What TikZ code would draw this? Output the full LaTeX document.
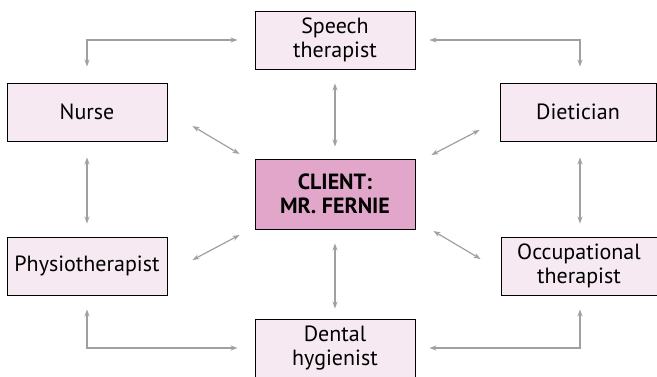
\documentclass[tikz,border=0pt]{standalone}
\usepackage{fontspec}
\setmainfont{PT Sans}
\usetikzlibrary{arrows.meta,calc}
\definecolor{boxfill}{HTML}{F7E9F2}
\definecolor{clientfill}{HTML}{E1A6C9}
\definecolor{conncol}{HTML}{A0A0A0}
\begin{document}
\begin{tikzpicture}[x=1pt,y=-1pt,
  box/.style={draw=black,line width=0.9pt,fill=boxfill,minimum width=160pt,minimum height=58pt,inner sep=0pt,align=center,font=\fontsize{22}{24}\selectfont},
  clientbox/.style={box,fill=clientfill,minimum height=70pt,font=\fontsize{22}{24}\selectfont\bfseries},
  conn/.style={draw=conncol,line width=1.2pt,{Stealth[length=7pt,width=5pt]}-{Stealth[length=7pt,width=5pt]}}
]
\useasboundingbox (0,0) rectangle (657,376);
\clip (0,0) rectangle (657,376);
\node[box] (speech) at (335,40) {Speech\\therapist};
\node[box] (nurse) at (87,112) {Nurse};
\node[box,minimum width=156pt] (diet) at (578,112) {Dietician};
\node[clientbox] (client) at (335,194) {CLIENT:\\MR. FERNIE};
\node[box] (physio) at (87,266) {Physiotherapist};
\node[box,minimum width=156pt] (occ) at (579,266) {Occupational\\therapist};
\node[box] (dental) at (335,348) {Dental\\hygienist};

\draw[conn,shorten <=16pt,shorten >=17pt] (nurse.north) |- (speech.west);
\draw[conn,shorten <=14pt,shorten >=16pt] (speech.east) -| ([xshift=2pt]diet.north);
\draw[conn,shorten <=16pt,shorten >=13pt] (nurse.south) -- (physio.north);
\draw[conn,shorten <=16pt,shorten >=13pt] ([xshift=2pt]diet.south) -- ([xshift=1pt]occ.north);
\draw[conn,shorten <=14pt,shorten >=12pt] (speech.south) -- (client.north);
\draw[conn,shorten <=14pt,shorten >=10pt] (client.south) -- (dental.north);
\draw[conn,shorten <=14pt,shorten >=17pt] (physio.south) |- (dental.west);
\draw[conn,shorten <=14pt,shorten >=14pt] ([xshift=1pt]occ.south) |- (dental.east);
\draw[conn] ($(nurse.east)+(25,14)$) -- ($(client.west)+(-15,-40)$);
\draw[conn] ($(client.east)+(16,-39)$) -- ($(diet.west)+(-20,18)$);
\draw[conn] ($(physio.east)+(25,-6)$) -- ($(client.west)+(-15,41)$);
\draw[conn] ($(client.east)+(18,37)$) -- ($(occ.west)+(-20,-7)$);
\end{tikzpicture}
\end{document}
